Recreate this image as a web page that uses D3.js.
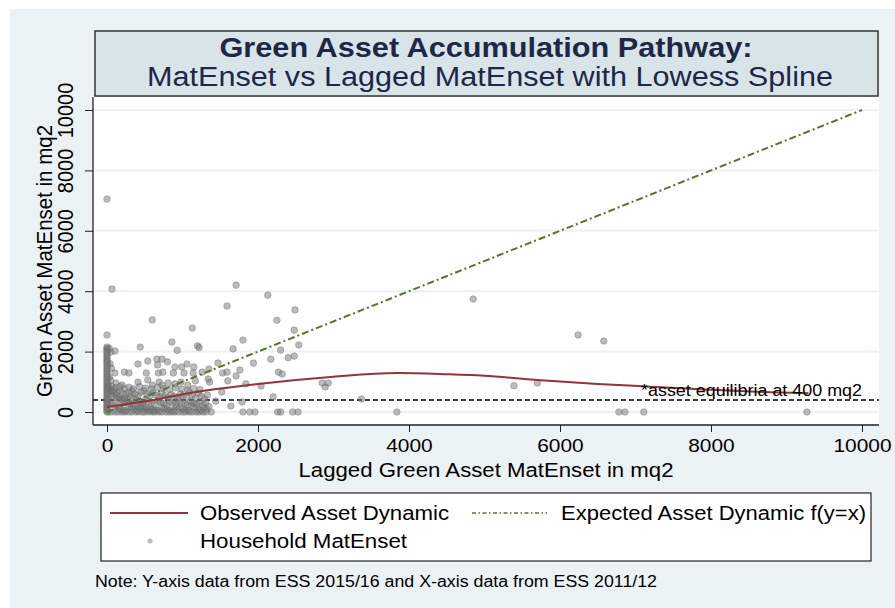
<!DOCTYPE html>
<html>
<head>
<meta charset="utf-8">
<script src="https://cdn.jsdelivr.net/npm/d3@7"></script>
<style>
  body { margin: 0; background: #fff; }
  text { font-family: "Liberation Sans", Arial, Helvetica, sans-serif; }
</style>
</head>
<body>
<svg width="895" height="608"></svg>
<script>
// axis ticks
var xTicks = [0, 2000, 4000, 6000, 8000, 10000];
var yTicks = [0, 2000, 4000, 6000, 8000, 10000];

// lowess fit (lagged matenset -> matenset)
var lowessX = [0, 300, 600, 1000, 1500, 2000, 2500, 3000, 3500, 3840, 4500, 5000, 5800, 6500, 7200, 8000, 8600, 9290];
var lowessY = [165, 280, 390, 590, 780, 930, 1060, 1170, 1260, 1290, 1250, 1200, 1040, 930, 840, 740, 670, 620];

// expected dynamic y = x
var expectedX = [0, 10000];
var expectedY = [0, 10000];

var equilibrium = 400;

// households with lagged matenset = 0 (y values)
var zeroLagHouseholds = [2150, 2100, 2060, 2000, 1950, 1880, 1820, 1750, 1700, 1640, 1580, 1520, 1450, 1400,
  1330, 1270, 1200, 1150, 1080, 1020, 960, 900, 850, 790, 730, 680, 620, 560, 500, 450, 400, 350, 300,
  250, 200, 150, 100, 50, 0];

// households with current matenset = 0 (x values)
var zeroNowHouseholds = [20, 60, 110, 150, 200, 240, 290, 330, 380, 420, 470, 500, 550, 600, 640, 690, 730,
  780, 820, 860, 900, 950, 1000, 1040, 1090, 1130, 1180, 1220, 1270, 1310, 1380, 1800, 1890, 1960, 2260,
  2300, 2460, 2530, 3840, 6780, 6860, 7110, 9270];

// remaining households [lagged, current]
var households = [
  [0, 7050], [66, 4070], [600, 3050], [1130, 2780], [0, 2550], [1710, 4200], [2130, 3870], [1590, 3510],
  [2490, 3380], [2250, 3040], [2480, 2710], [1800, 2380], [4850, 3740], [6240, 2550], [6580, 2350],
  [5390, 870], [5700, 960], [3370, 430],
  [2540, 2220], [1670, 2090], [2300, 2050], [1470, 1620], [1940, 1620], [2170, 1750], [2400, 1800],
  [2480, 1850], [1530, 1290], [1590, 1320], [1760, 1390], [1710, 1190], [1600, 1030], [2270, 1320],
  [2320, 1260], [1840, 930], [2040, 860], [1360, 990], [1520, 660], [2200, 500], [1440, 360], [1790, 330],
  [1640, 200], [2850, 960], [2890, 830], [2930, 960],
  [105, 2020], [440, 2150], [860, 2320], [1200, 2190], [1220, 2130], [930, 2040],
  [410, 1590], [540, 1690], [660, 1750], [730, 1750], [800, 1660], [670, 1560], [900, 1490], [990, 1490],
  [1060, 1590], [1150, 1490],
  [105, 1290], [230, 1320], [290, 1290], [520, 1290], [680, 1290], [740, 1320], [880, 1290], [1020, 1290],
  [1140, 1290], [1260, 1320], [1350, 1420],
  [120, 960], [200, 890], [410, 990], [540, 1060], [600, 890], [690, 990], [730, 890], [810, 960],
  [900, 930], [980, 990], [1070, 890], [1170, 1030], [1340, 1090],
  [30, 2100], [50, 1980], [40, 1600], [60, 1450], [30, 1150], [50, 1050],
  [15, 820], [35, 760], [70, 690], [95, 610], [130, 540], [160, 480], [190, 420], [220, 380], [260, 330],
  [300, 280], [340, 230], [380, 190], [420, 150], [460, 110], [500, 80], [540, 60], [580, 40], [620, 30],
  [40, 300], [80, 250], [120, 200], [150, 120], [180, 90], [210, 60], [250, 40], [280, 180], [320, 140],
  [360, 90], [400, 60], [440, 240], [480, 200], [520, 160], [560, 120], [600, 100], [640, 70], [680, 50],
  [720, 160], [760, 120], [800, 90], [840, 60], [880, 40], [920, 180], [960, 140], [1000, 100], [1040, 70],
  [1080, 50], [1120, 220], [1160, 150], [1200, 100], [1240, 60], [1280, 140], [1320, 90],
  [60, 520], [100, 470], [140, 430], [180, 380], [230, 470], [270, 420], [310, 520], [350, 460], [390, 400],
  [430, 350], [470, 300], [510, 420], [550, 360], [590, 310], [630, 260], [670, 380], [710, 330], [750, 280],
  [790, 230], [830, 340], [870, 290], [910, 250], [950, 380], [990, 320], [1030, 270], [1070, 230],
  [1110, 360], [1150, 300], [1190, 260], [1230, 330], [1270, 230], [1310, 300], [1350, 180],
  [50, 680], [90, 740], [130, 650], [170, 700], [210, 620], [250, 580], [290, 640], [330, 710], [370, 600],
  [410, 560], [450, 650], [490, 700], [530, 590], [570, 540], [610, 640], [650, 560], [690, 500], [730, 610],
  [770, 540], [810, 470], [850, 580], [890, 520], [930, 460], [970, 600], [1010, 540], [1050, 480],
  [1090, 650], [1130, 560], [1170, 470], [1210, 620], [1250, 520], [1290, 440], [1330, 560],
  [20, 880], [60, 850], [110, 800], [170, 840], [230, 780], [290, 820], [350, 770], [430, 840], [510, 790],
  [590, 760], [670, 820], [750, 780], [830, 740], [910, 800], [990, 760], [1070, 720], [1150, 780], [1230, 740]
];

var legendItems = ["Observed Asset Dynamic", "Expected Asset Dynamic f(y=x)", "Household MatEnset"];

var svg = d3.select("svg");

var plotL = 93, plotR = 879, plotT = 97, plotB = 425;

var x = d3.scaleLinear().domain([0, 10000]).range([107, 862]);
var y = d3.scaleLinear().domain([0, 10000]).range([412, 110]);

var red = "#90353b", green = "#55752f", bg = "#eaf2f3";

// graph region
svg.append("rect").attr("x", 10).attr("y", 9).attr("width", 885).attr("height", 599).attr("fill", bg);

// plot region
svg.append("rect").attr("x", plotL).attr("y", plotT).attr("width", plotR - plotL).attr("height", plotB - plotT)
  .attr("fill", "#fff");

svg.append("g").selectAll("line").data(yTicks).enter().append("line")
  .attr("x1", plotL).attr("x2", plotR)
  .attr("y1", function(d) { return y(d); }).attr("y2", function(d) { return y(d); })
  .attr("stroke", bg).attr("stroke-width", 2);

// equilibrium line
svg.append("line")
  .attr("x1", plotL).attr("x2", plotR)
  .attr("y1", y(equilibrium)).attr("y2", y(equilibrium))
  .attr("stroke", "#000").attr("stroke-width", 1.5).attr("stroke-dasharray", "5,3");

// scatter
var pts = households
  .concat(zeroLagHouseholds.map(function(v) { return [0, v]; }))
  .concat(zeroNowHouseholds.map(function(v) { return [v, 0]; }));

svg.append("g").selectAll("circle").data(pts).enter().append("circle")
  .attr("cx", function(d) { return x(d[0]); })
  .attr("cy", function(d) { return y(d[1]); })
  .attr("r", 3.3)
  .attr("fill", "#777").attr("fill-opacity", 0.5)
  .attr("stroke", "#666").attr("stroke-opacity", 0.45).attr("stroke-width", 0.8);

// expected y = x
var line = d3.line().x(function(d) { return x(d[0]); }).y(function(d) { return y(d[1]); });

svg.append("path")
  .datum(expectedX.map(function(v, i) { return [v, expectedY[i]]; }))
  .attr("d", line)
  .attr("fill", "none").attr("stroke", green).attr("stroke-width", 2)
  .attr("stroke-dasharray", "7,3,2,3");

// lowess
svg.append("path")
  .datum(lowessX.map(function(v, i) { return [v, lowessY[i]]; }))
  .attr("d", line.curve(d3.curveMonotoneX))
  .attr("fill", "none").attr("stroke", red).attr("stroke-width", 2);

svg.append("text").attr("x", 641).attr("y", 396)
  .attr("font-size", 16).attr("textLength", 221).attr("lengthAdjust", "spacingAndGlyphs")
  .text("*asset equilibria at " + equilibrium + " mq2");

// axes
var xAxis = svg.append("g").attr("transform", "translate(0," + plotB + ")")
  .call(d3.axisBottom(x).tickValues(xTicks).tickSize(7).tickPadding(7).tickFormat(d3.format("d")));
xAxis.select(".domain").remove();
xAxis.selectAll(".tick line").attr("stroke", "#222");
xAxis.selectAll("text").attr("font-size", 19).attr("fill", "#000")
  .style("font-family", "'Liberation Sans', Arial, sans-serif")
  .each(function() {
    var len = this.getComputedTextLength();
    d3.select(this).attr("textLength", len * 1.1).attr("lengthAdjust", "spacingAndGlyphs");
  });

var yAxis = svg.append("g").attr("transform", "translate(" + plotL + ",0)")
  .call(d3.axisLeft(y).tickValues(yTicks).tickSize(8).tickFormat(d3.format("d")));
yAxis.select(".domain").remove();
yAxis.selectAll(".tick line").attr("stroke", "#222");
yAxis.selectAll("text").attr("font-size", 20).attr("fill", "#000")
  .style("font-family", "'Liberation Sans', Arial, sans-serif")
  .attr("x", null).attr("dy", null).attr("text-anchor", "middle")
  .attr("transform", "translate(-20,0) rotate(-90) scale(1,1.1)");

svg.append("line").attr("x1", plotL).attr("x2", plotL).attr("y1", plotT).attr("y2", plotB)
  .attr("stroke", "#222").attr("stroke-width", 1.3);
svg.append("line").attr("x1", plotL).attr("x2", plotR).attr("y1", plotB).attr("y2", plotB)
  .attr("stroke", "#222").attr("stroke-width", 1.3);

svg.append("text").attr("x", 486).attr("y", 477).attr("text-anchor", "middle")
  .attr("font-size", 20).attr("textLength", 375).attr("lengthAdjust", "spacingAndGlyphs")
  .text("Lagged Green Asset MatEnset in mq2");

svg.append("text").attr("transform", "translate(52,261) rotate(-90) scale(1,1.1)").attr("text-anchor", "middle")
  .attr("font-size", 20.5)
  .text("Green Asset MatEnset in mq2");

// title box
svg.append("rect").attr("x", 95).attr("y", 31).attr("width", 783).attr("height", 65)
  .attr("fill", "#d9e4e9").attr("stroke", "#333").attr("stroke-width", 1.5);
svg.append("text").attr("x", 486).attr("y", 57).attr("text-anchor", "middle")
  .attr("font-size", 28).attr("font-weight", "bold").attr("fill", "#1f2747")
  .attr("textLength", 533).attr("lengthAdjust", "spacingAndGlyphs")
  .text("Green Asset Accumulation Pathway:");
svg.append("text").attr("x", 490).attr("y", 86).attr("text-anchor", "middle")
  .attr("font-size", 27).attr("fill", "#1f2747")
  .attr("textLength", 686).attr("lengthAdjust", "spacingAndGlyphs")
  .text("MatEnset vs Lagged MatEnset with Lowess Spline");

// legend
var lg = svg.append("g");
lg.append("rect").attr("x", 101).attr("y", 493).attr("width", 770).attr("height", 68)
  .attr("fill", "#fff").attr("stroke", "#222").attr("stroke-width", 1.2);
lg.append("line").attr("x1", 110).attr("x2", 188).attr("y1", 513).attr("y2", 513)
  .attr("stroke", red).attr("stroke-width", 2);
lg.append("line").attr("x1", 472).attr("x2", 547).attr("y1", 513).attr("y2", 513)
  .attr("stroke", green).attr("stroke-width", 1.3).attr("stroke-dasharray", "4,2.5,1.5,2.5");
lg.append("circle").attr("cx", 150).attr("cy", 541).attr("r", 2.5)
  .attr("fill", "#777").attr("fill-opacity", 0.5);
var legendPos = [[200, 520, 249], [561, 520, 305], [200, 548, 207]];
lg.selectAll("text.item").data(legendItems).enter().append("text")
  .attr("x", function(d, i) { return legendPos[i][0]; })
  .attr("y", function(d, i) { return legendPos[i][1]; })
  .attr("textLength", function(d, i) { return legendPos[i][2]; })
  .attr("lengthAdjust", "spacingAndGlyphs")
  .attr("font-size", 20)
  .text(function(d) { return d; });

svg.append("text").attr("x", 95).attr("y", 587).attr("font-size", 16)
  .attr("textLength", 562).attr("lengthAdjust", "spacingAndGlyphs")
  .text("Note: Y-axis data from ESS 2015/16 and X-axis data from ESS 2011/12");
</script>
</body>
</html>
